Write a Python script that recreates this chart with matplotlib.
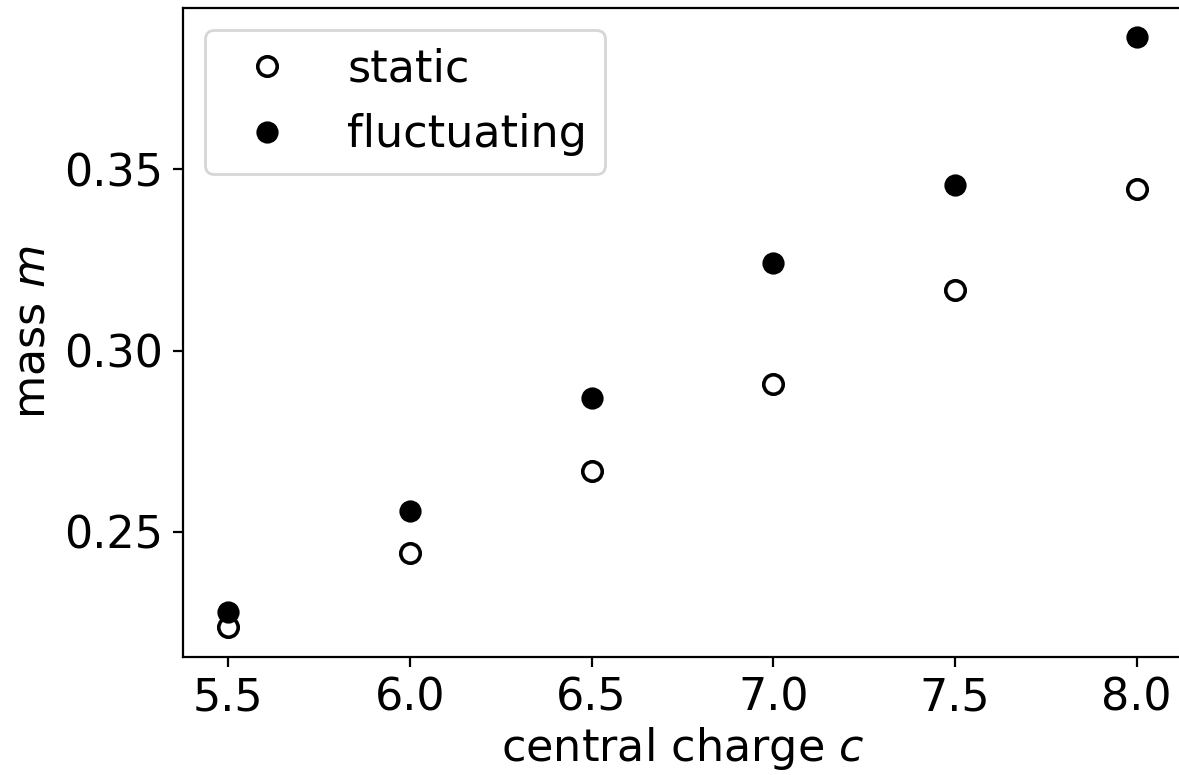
import numpy as np
import matplotlib.pyplot as plt

# central charge values
c_vals = [5.5, 6.0, 6.5, 7.0, 7.5, 8.0]

# mass estimates
m_static = [0.2236, 0.2442, 0.2667, 0.2909, 0.3167, 0.3445]
m_fluct = [0.2280, 0.2558, 0.2868, 0.3242, 0.3456, 0.3864]

plt.rcParams['font.size'] = 16

fig = plt.figure(figsize=(5.895, 3.875), dpi=200)
# axes run slightly past the right edge (the original was cropped there)
ax = fig.add_axes([0.1552, 0.1523, 0.8473, 0.8374])

ax.plot(c_vals, m_static, 'o', color='k', markerfacecolor='white', markersize=7,
        markeredgewidth=1.3, label='static')
ax.plot(c_vals, m_fluct, 'o', color='k', markersize=7, label='fluctuating')

ax.set_xticks([5.5, 6.0, 6.5, 7.0, 7.5, 8.0])
ax.set_yticks([0.25, 0.30, 0.35])
ax.set_xlabel('central charge $c$', labelpad=2)
ax.set_ylabel('mass $m$')
ax.legend(loc='upper left')

fig.savefig('out.png', dpi=200)
